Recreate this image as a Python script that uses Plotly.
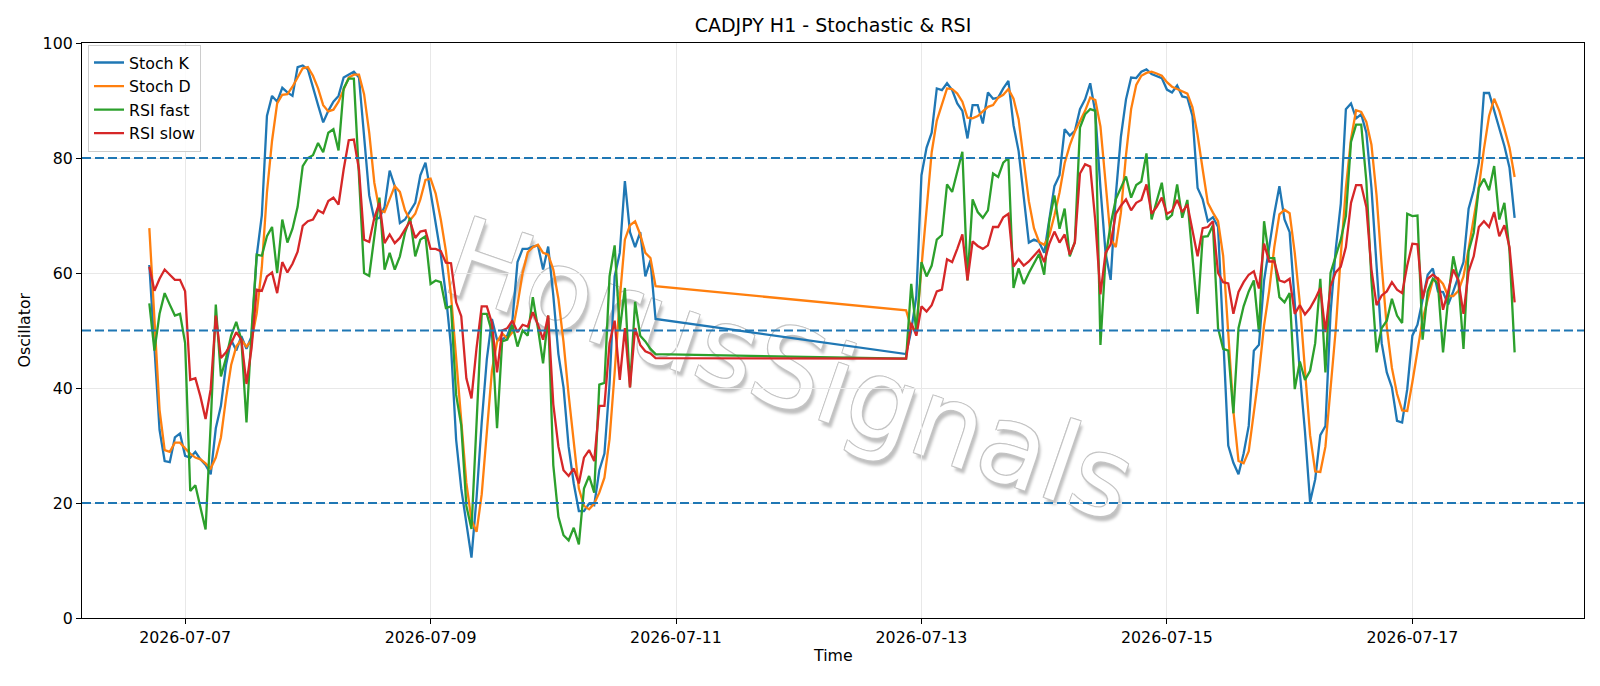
import pandas as pd
import plotly.graph_objects as go

# ---------------- data ----------------
seg1_start = "2026-07-06 17:00"
seg2_start = "2026-07-12 21:00"

stoch_k_1 = [61.4, 46.5, 32.7, 27.3, 27.1, 31.4, 32.1, 28.2, 27.9, 28.9,
             27.6, 26.6, 25.0, 33.0, 36.9, 44.0, 48.4, 46.5, 49.0, 46.8,
             49.0, 63.0, 70.0, 87.3, 90.8, 89.8, 92.2, 91.4, 90.8, 95.8,
             96.1, 95.4, 92.1, 89.2, 86.2, 88.2, 89.8, 90.8, 94.0, 94.5,
             95.0, 94.0, 84.4, 73.5, 69.3, 69.6, 71.5, 77.8, 75.1, 68.7,
             69.3, 70.8, 72.2, 77.0, 79.2, 74.1, 69.0, 63.2, 56.1, 47.2,
             31.0, 22.5, 16.5, 10.5, 21.0, 34.0, 45.0, 52.0, 48.4, 48.4,
             49.1, 51.7, 61.9, 64.2, 64.2, 64.6, 64.8, 60.6, 64.6, 56.1,
             45.9, 40.1, 29.8, 23.4, 18.6, 18.6, 19.9, 19.6, 25.7, 28.6,
             40.7, 59.4, 63.5, 76.0, 67.1, 64.5, 67.1, 59.4, 62.2, 52.0]
stoch_d_1 = [67.8, 51.6, 36.2, 29.2, 28.9, 30.5, 30.5, 29.5, 28.6, 27.9,
             27.6, 26.9, 26.0, 27.9, 31.4, 38.2, 44.0, 47.2, 48.4, 47.2,
             48.3, 53.0, 61.0, 74.0, 83.0, 89.5, 91.0, 91.1, 92.4, 94.0,
             95.6, 95.8, 94.3, 92.1, 89.2, 88.1, 88.4, 89.8, 91.8, 94.0,
             94.5, 94.5, 91.1, 84.4, 75.7, 70.9, 70.6, 72.8, 75.1, 74.1,
             70.9, 69.2, 70.3, 72.8, 76.2, 76.4, 73.8, 69.3, 63.8, 56.1,
             45.2, 33.0, 23.5, 17.0, 15.0, 21.5, 33.0, 43.0, 48.0, 49.5,
             48.6, 49.7, 54.5, 60.0, 63.6, 64.5, 64.9, 63.5, 63.2, 60.6,
             55.5, 48.0, 38.8, 30.0, 22.5, 19.5, 18.9, 19.9, 21.8, 24.4,
             31.1, 42.7, 55.5, 65.8, 68.3, 69.0, 66.7, 63.5, 62.6, 57.7]
rsi_fast_1 = [54.7, 46.5, 52.9, 56.5, 54.5, 52.6, 52.9, 47.8, 22.1, 23.1,
              19.2, 15.4, 33.7, 54.5, 42.0, 45.2, 49.1, 51.5, 48.4, 34.0,
              50.0, 63.2, 63.0, 66.4, 68.0, 60.0, 69.3, 65.3, 67.7, 71.5,
              78.6, 80.0, 80.5, 82.6, 81.0, 84.4, 85.0, 81.3, 92.1, 93.8,
              93.8, 77.0, 60.0, 59.5, 66.0, 73.1, 60.6, 63.5, 60.6, 62.9,
              67.0, 69.6, 62.9, 65.8, 66.4, 58.1, 58.7, 58.4, 53.9, 54.2,
              38.8, 33.5, 19.5, 15.5, 34.0, 52.9, 52.9, 49.7, 33.0, 48.1,
              48.4, 51.0, 47.2, 50.0, 49.1, 55.8, 50.4, 44.3, 52.6, 26.6,
              17.6, 14.4, 13.5, 15.7, 12.8, 22.5, 24.7, 21.8, 40.6, 40.9,
              59.4, 64.8, 50.0, 57.4, 40.1, 55.0, 49.1, 48.1, 46.8, 45.9]
rsi_slow_1 = [61.1, 56.9, 59.0, 60.6, 59.7, 58.8, 58.8, 56.8, 41.4, 41.7,
              38.5, 34.6, 39.8, 52.6, 45.2, 46.2, 47.8, 49.7, 48.4, 40.7,
              47.0, 57.1, 56.9, 59.4, 60.1, 56.5, 61.9, 60.1, 61.6, 63.7,
              68.2, 69.0, 69.3, 70.9, 70.4, 72.5, 73.1, 71.9, 78.0, 83.1,
              83.2, 78.0, 65.8, 65.4, 69.6, 72.2, 65.2, 66.7, 65.2, 66.1,
              67.6, 69.0, 66.1, 67.2, 67.4, 64.2, 64.2, 63.8, 61.8, 61.7,
              54.9, 52.5, 41.7, 38.2, 47.0, 54.2, 54.2, 51.3, 42.7, 50.0,
              50.4, 51.7, 49.7, 51.0, 50.7, 53.2, 51.0, 48.4, 52.6, 37.2,
              29.8, 25.7, 24.7, 26.0, 23.4, 27.9, 29.2, 27.3, 36.9, 36.9,
              47.8, 51.7, 41.4, 50.4, 40.1, 50.4, 47.5, 46.4, 46.0, 45.2]

stoch_k_2 = [45.9, 50.0, 56.0, 77.0, 81.8, 84.4, 92.1, 91.8, 93.0, 91.8,
             89.5, 88.2, 83.4, 89.2, 89.2, 86.0, 91.4, 90.3, 90.5, 92.1,
             93.4, 85.7, 81.2, 73.1, 65.3, 65.8, 65.4, 63.5, 69.0, 75.1,
             77.0, 85.0, 83.9, 84.7, 88.5, 90.2, 93.0, 87.9, 74.8, 63.5,
             58.8, 73.5, 83.7, 90.2, 94.0, 93.9, 95.0, 95.4, 94.6, 94.3,
             93.9, 91.9, 91.4, 92.6, 90.7, 90.5, 87.3, 74.8, 72.8, 69.0,
             69.7, 68.0, 50.0, 30.0, 27.0, 25.0, 28.6, 33.4, 46.5, 47.5,
             58.7, 64.5, 70.3, 75.1, 69.3, 67.1, 54.2, 42.7, 32.4, 20.2,
             24.1, 31.8, 33.4, 53.0, 64.0, 72.0, 88.5, 89.5, 86.9, 87.6,
             84.4, 74.8, 61.3, 47.8, 42.7, 40.1, 34.3, 34.0, 39.8, 49.1,
             51.0, 55.5, 59.7, 60.8, 56.8, 56.7, 54.5, 56.8, 59.4, 61.9,
             71.2, 74.4, 79.2, 91.3, 91.3, 88.2, 85.0, 82.1, 78.3, 69.6]
stoch_d_2 = [53.5, 50.5, 50.0, 61.0, 71.5, 81.0, 86.5, 89.5, 92.1, 92.0,
             91.2, 89.8, 87.0, 86.9, 87.3, 88.1, 88.9, 89.2, 90.5, 91.0,
             92.0, 90.3, 86.7, 79.6, 72.5, 67.8, 65.4, 64.9, 66.5, 70.0,
             74.0, 79.1, 82.2, 84.6, 86.3, 88.2, 90.5, 90.1, 85.5, 75.0,
             66.0, 64.5, 70.5, 80.5, 88.5, 92.7, 94.3, 94.8, 95.0, 94.7,
             94.3, 93.2, 92.4, 92.0, 91.6, 91.2, 88.8, 84.0, 78.0, 72.2,
             70.5, 69.0, 63.0, 50.0, 36.0, 27.3, 26.9, 29.0, 36.2, 42.5,
             50.9, 56.9, 64.5, 70.2, 71.0, 70.4, 63.5, 54.7, 43.1, 31.8,
             25.5, 25.4, 29.8, 39.2, 50.0, 63.0, 74.8, 83.3, 88.3, 88.0,
             86.3, 82.3, 73.5, 61.3, 50.6, 43.5, 39.0, 36.1, 36.0, 41.0,
             46.6, 51.9, 55.4, 58.7, 59.1, 58.1, 56.0, 56.0, 56.9, 59.4,
             64.2, 69.2, 74.9, 81.6, 87.3, 90.3, 88.2, 85.1, 81.8, 76.7]
rsi_fast_2 = [45.1, 58.1, 49.7, 61.9, 59.4, 61.3, 65.8, 66.6, 75.4, 74.1,
              77.6, 81.1, 58.7, 72.8, 70.6, 69.6, 70.9, 77.3, 76.7, 79.2,
              80.0, 57.4, 60.8, 58.1, 60.0, 61.6, 63.3, 59.7, 69.0, 73.5,
              67.7, 71.2, 62.9, 65.4, 85.3, 87.6, 88.5, 88.2, 47.5, 62.6,
              68.5, 72.8, 74.9, 76.8, 73.1, 75.3, 75.9, 80.8, 69.3, 72.5,
              75.7, 69.3, 70.1, 75.4, 69.6, 72.7, 63.2, 52.9, 66.3, 66.4,
              68.3, 50.4, 46.8, 46.5, 35.6, 50.4, 54.2, 56.8, 58.7, 49.7,
              69.0, 62.6, 62.6, 55.8, 54.9, 56.5, 39.8, 44.6, 41.4, 43.0,
              47.8, 59.0, 42.7, 60.0, 62.9, 65.8, 69.9, 82.8, 85.8, 85.8,
              76.0, 58.7, 46.2, 50.4, 51.7, 55.5, 52.6, 51.3, 70.3, 69.9,
              70.0, 48.4, 56.8, 59.0, 58.1, 46.2, 55.5, 62.9, 58.7, 46.8,
              63.8, 67.0, 74.8, 76.4, 74.4, 78.6, 69.3, 72.2, 63.8, 46.2]
rsi_slow_2 = [45.1, 51.3, 49.1, 54.2, 53.3, 54.4, 56.8, 57.1, 62.4, 61.9,
              64.2, 66.7, 58.7, 65.5, 64.7, 64.2, 64.8, 68.0, 68.0, 69.7,
              70.3, 61.1, 62.4, 61.3, 62.0, 63.1, 64.0, 61.9, 65.1, 67.2,
              65.3, 66.7, 63.2, 65.3, 77.3, 78.9, 78.5, 69.0, 56.3, 63.5,
              65.0, 70.3, 71.7, 72.8, 70.9, 72.2, 72.7, 75.4, 70.3, 71.5,
              73.1, 70.3, 70.8, 72.7, 70.6, 71.9, 67.7, 62.9, 67.8, 68.0,
              69.0, 60.0, 58.4, 58.2, 52.9, 56.7, 58.4, 59.7, 60.3, 57.3,
              65.1, 62.0, 62.0, 58.7, 58.4, 59.0, 52.9, 54.4, 52.8, 53.9,
              55.5, 57.4, 49.7, 57.7, 60.1, 61.1, 64.5, 72.2, 75.3, 75.3,
              71.5, 60.6, 54.4, 56.1, 56.8, 58.4, 57.1, 56.5, 61.3, 65.1,
              65.0, 55.5, 59.0, 59.7, 59.0, 53.6, 56.8, 60.6, 58.7, 52.9,
              60.3, 62.9, 68.0, 69.0, 68.0, 70.6, 66.4, 68.3, 64.5, 54.9]

series_names = ["Stoch K", "Stoch D", "RSI fast", "RSI slow"]
series_colors = ["#1f77b4", "#ff7f0e", "#2ca02c", "#d62728"]
level_lines = [20, 50, 80]
x_tick_labels = ["2026-07-07", "2026-07-09", "2026-07-11",
                 "2026-07-13", "2026-07-15", "2026-07-17"]
y_tick_values = [0, 20, 40, 60, 80, 100]
x_range = ["2026-07-06 03:50", "2026-07-18 09:34"]
watermark_text = "HorusSignals"

# ---------------- build ----------------
times = list(pd.date_range(seg1_start, periods=len(stoch_k_1), freq="h")) + \
        list(pd.date_range(seg2_start, periods=len(stoch_k_2), freq="h"))
values = [stoch_k_1 + stoch_k_2, stoch_d_1 + stoch_d_2,
          rsi_fast_1 + rsi_fast_2, rsi_slow_1 + rsi_slow_2]

FONT = "DejaVu Sans, Liberation Sans, sans-serif"
FS = 15.8

fig = go.Figure()
for name, color, vals in zip(series_names, series_colors, values):
    fig.add_trace(go.Scatter(x=times, y=vals, mode="lines", name=name,
                             line=dict(color=color, width=2.3)))

for lv in level_lines:
    fig.add_shape(type="line", xref="paper", x0=0, x1=1, yref="y", y0=lv, y1=lv,
                  line=dict(color="#1f77b4", width=1.8, dash="9px,4px"))

# watermark (drawn between gridlines and traces)
cx = (793 - 82) / 1502
cy = (618 - 362) / 575
fig.add_shape(type="rect", xref="paper", yref="paper",
              x0=cx - 0.05, x1=cx + 0.05, y0=cy - 0.05, y1=cy + 0.05,
              line=dict(width=0), fillcolor="rgba(0,0,0,0)", layer="between",
              label=dict(text=watermark_text, textangle=19,
                         textposition="middle center",
                         font=dict(family=FONT, size=110, color="rgb(255,255,255)",
                                   shadow="-1px -1px 0 #c4c4c4, 1px -1px 0 #c4c4c4, -1px 1px 0 #c4c4c4, 1px 1px 0 #c4c4c4, 4px 4px 3px rgba(0,0,0,0.25)")))

# axis titles
fig.add_annotation(text="Time", xref="paper", yref="paper", x=0.5, y=(618 - 656) / 575,
                   showarrow=False, yanchor="middle",
                   font=dict(family=FONT, size=FS, color="black"))
fig.add_annotation(text="Oscillator", xref="paper", yref="paper", x=(24 - 82) / 1502, y=0.5,
                   showarrow=False, textangle=-90, xanchor="center", yanchor="middle",
                   font=dict(family=FONT, size=FS, color="black"))

fig.update_layout(
    width=1600, height=686,
    margin=dict(l=82, r=16, t=43, b=68),
    paper_bgcolor="white", plot_bgcolor="white",
    font=dict(family=FONT, size=FS, color="black"),
    title=dict(text="CADJPY H1 - Stochastic & RSI", x=0.5, xref="paper",
               y=1 - 25.5 / 686, yref="container", xanchor="center", yanchor="middle",
               font=dict(family=FONT, size=19, color="black")),
    showlegend=True,
    legend=dict(x=0.004, y=0.997, xanchor="left", yanchor="top",
                bgcolor="rgba(255,255,255,0.85)", bordercolor="#cccccc", borderwidth=1,
                font=dict(family=FONT, size=FS), itemwidth=30,
                tracegroupgap=0),
)
fig.update_xaxes(type="date", range=x_range,
                 tickvals=x_tick_labels, ticktext=x_tick_labels,
                 showgrid=True, gridcolor="#e8e8e8", gridwidth=1,
                 showline=True, linecolor="black", linewidth=1.2, mirror=True,
                 ticks="outside", ticklen=5, tickcolor="black", zeroline=False,
                 tickfont=dict(family=FONT, size=FS))
fig.update_yaxes(range=[0, 100], tickvals=y_tick_values,
                 showgrid=True, gridcolor="#e8e8e8", gridwidth=1,
                 showline=True, linecolor="black", linewidth=1.2, mirror=True,
                 ticks="outside", ticklen=5, tickcolor="black", zeroline=False,
                 tickfont=dict(family=FONT, size=FS))

fig.write_html("out.html")
